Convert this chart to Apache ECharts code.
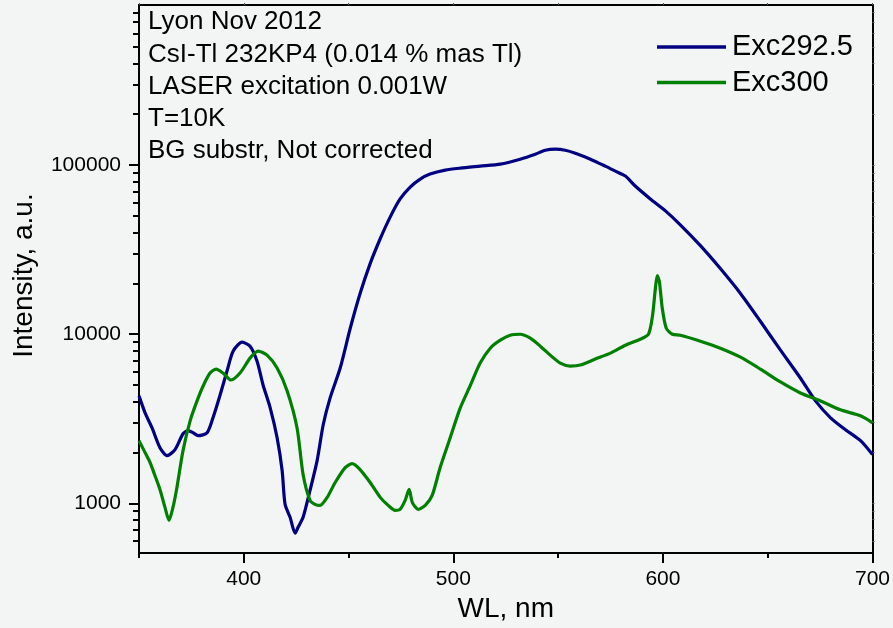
<!DOCTYPE html>
<html>
<head>
<meta charset="utf-8">
<script src="https://cdn.jsdelivr.net/npm/echarts@6/dist/echarts.min.js"></script>
<style>
  html, body { margin: 0; padding: 0; background: #f3f5f4; }
  #chart { width: 893px; height: 628px; }
</style>
</head>
<body>
<div id="chart"></div>
<script>
// Emission spectra, CsI-Tl 232KP4, log intensity vs wavelength
const wlExc2925 = [350.0,352.9,356.2,360.0,363.4,367.2,371.0,373.4,375.8,378.2,382.5,385.3,388.7,392.0,394.9,399.2,403.0,406.3,409.2,412.6,415.9,418.3,419.7,422.1,424.5,425.9,428.3,431.6,435.0,437.9,441.2,446.0,450.8,455.5,460.3,465.1,469.9,474.6,479.4,484.2,488.9,496.1,503.3,512.8,522.4,531.9,539.1,543.9,548.6,553.4,558.2,565.4,572.5,577.3,582.1,586.8,594.0,601.2,608.3,617.9,627.4,637.0,646.5,656.1,665.6,672.8,680.0,687.1,694.3,700.0];
const intExc2925 = [4320,3430,2800,2135,1915,2078,2580,2690,2616,2512,2616,3206,4377,6059,7943,8973,8500,6937,5012,3670,2445,1564,987,827,666,722,827,1192,1790,2915,4204,6310,10850,17420,26160,36700,49430,63100,74240,82730,88530,93460,96030,98650,101370,108470,116050,122500,124200,122500,117630,108470,98650,92200,86150,75240,63100,53620,44370,33390,24450,17420,11930,8053,5510,4035,3206,2725,2348,1942];

const wlExc300 = [350.0,352.9,355.3,357.6,360.0,362.4,364.3,366.2,368.1,371.0,374.4,377.7,380.6,383.9,386.8,390.1,393.9,398.2,403.0,406.8,411.1,415.9,420.7,425.4,428.3,431.6,434.0,436.4,439.8,443.6,448.4,451.7,455.5,460.3,465.1,468.9,472.2,474.6,477.0,478.9,480.4,483.2,486.6,489.9,493.7,498.5,503.3,508.0,512.8,517.6,522.4,527.1,531.9,536.7,541.5,546.2,551.0,555.8,560.6,567.7,574.9,582.1,589.2,593.1,595.0,596.4,597.3,598.3,599.7,601.6,604.5,608.3,617.9,627.4,637.0,646.5,656.1,665.6,675.2,684.7,694.3,700.0];
const intExc300 = [2348,1995,1742,1461,1209,947,794,947,1242,2050,3077,4035,4945,5895,6225,5895,5362,5895,7224,7943,7524,6310,4620,2800,1481,1041,987,973,1085,1329,1628,1719,1585,1329,1085,973,910,922,1041,1209,1014,922,973,1114,1628,2445,3670,4945,6750,8272,9220,9865,10000,9474,8500,7524,6750,6484,6572,7129,7730,8614,9346,10000,12760,18650,22240,20500,14220,10850,10000,9865,9096,8272,7323,6225,5220,4497,4035,3573,3294,2995];

const seriesNames = ['Exc292.5', 'Exc300'];
const xMajorTicks = [400, 500, 600, 700];
const yMajorTicks = [1000, 10000, 100000];
const yMinorTicks = [600, 700, 800, 900, 2000, 3000, 4000, 5000, 6000, 7000, 8000, 9000,
  20000, 30000, 40000, 50000, 60000, 70000, 80000, 90000, 200000, 300000, 400000, 500000,
  600000, 700000, 800000];
const notes = ['Lyon Nov 2012', 'CsI-Tl 232KP4 (0.014 % mas Tl)', 'LASER excitation 0.001W',
  'T=10K', 'BG substr, Not corrected'];

const X_MIN = 350, X_MAX = 700;
const Y_MIN = 508, Y_MAX = 885000;
const FONT = '"Liberation Sans", Arial, sans-serif';
const INK = '#000000';
const COLORS = ['#000080', '#008000'];

const pairs = (xs, ys) => xs.map((x, i) => [x, ys[i]]);

const chart = echarts.init(document.getElementById('chart'), null, { renderer: 'canvas' });

const noteTops = [22, 54.5, 86.5, 118.5, 150.5];

const option = {
  backgroundColor: '#f3f5f4',
  animation: false,
  textStyle: { fontFamily: FONT },
  grid: { left: 139, right: 20, top: 5, bottom: 71, containLabel: false },
  legend: {
    show: true,
    orient: 'vertical',
    left: 657,
    top: 32,
    padding: 0,
    itemWidth: 69,
    itemHeight: 3.5,
    itemGap: 5.5,
    icon: 'rect',
    data: seriesNames.map((n, i) => ({ name: n, icon: 'rect', itemStyle: { color: COLORS[i] } })),
    textStyle: { fontSize: 29, lineHeight: 30, color: INK, fontFamily: FONT, padding: [0, 0, 0, 1] }
  },
  xAxis: [
    {
      type: 'value', position: 'bottom', min: X_MIN, max: X_MAX, interval: 50,
      axisLine: { show: true, lineStyle: { color: INK, width: 2 } },
      axisTick: { show: true, length: 5, lineStyle: { color: INK, width: 2 } },
      axisLabel: { customValues: xMajorTicks, fontSize: 21, color: INK, margin: 16, fontFamily: FONT },
      splitLine: { show: false },
      name: 'WL, nm', nameLocation: 'middle', nameGap: 41,
      nameTextStyle: { fontSize: 28, color: INK, fontFamily: FONT }
    },
    {
      type: 'value', position: 'bottom', min: X_MIN, max: X_MAX,
      axisLine: { show: false },
      axisTick: { show: true, customValues: xMajorTicks, length: 10, lineStyle: { color: INK, width: 2 } },
      axisLabel: { show: false },
      splitLine: { show: false }
    },
    {
      type: 'value', position: 'top', min: X_MIN, max: X_MAX, interval: 50,
      axisLine: { show: true, lineStyle: { color: INK, width: 2 } },
      axisTick: { show: true, length: 2, lineStyle: { color: '#555', width: 1 } },
      axisLabel: { show: false },
      splitLine: { show: false }
    }
  ],
  yAxis: [
    {
      type: 'log', logBase: 10, position: 'left', min: Y_MIN, max: Y_MAX,
      axisLine: { show: true, lineStyle: { color: INK, width: 2 } },
      axisTick: { show: true, customValues: yMajorTicks, length: 10, lineStyle: { color: INK, width: 2 } },
      axisLabel: {
        customValues: yMajorTicks, fontSize: 21, color: INK, margin: 18, fontFamily: FONT,
        formatter: (v) => String(Math.round(v))
      },
      splitLine: { show: false },
      name: 'Intensity, a.u.', nameLocation: 'middle', nameGap: 101,
      nameTextStyle: { fontSize: 28, color: INK, fontFamily: FONT, padding: [0, 0, 0, 7] }
    },
    {
      type: 'log', logBase: 10, position: 'left', min: Y_MIN, max: Y_MAX,
      axisLine: { show: false },
      axisTick: { show: true, customValues: yMinorTicks, length: 6, lineStyle: { color: INK, width: 2 } },
      axisLabel: { show: false },
      splitLine: { show: false }
    },
    {
      type: 'log', logBase: 10, position: 'right', min: Y_MIN, max: Y_MAX,
      axisLine: { show: true, lineStyle: { color: INK, width: 2 } },
      axisTick: { show: true, customValues: yMajorTicks.concat(yMinorTicks), length: 2, lineStyle: { color: '#555', width: 1 } },
      axisLabel: { show: false },
      splitLine: { show: false }
    }
  ],
  graphic: notes.map((t, i) => ({
    type: 'text',
    left: 148,
    top: noteTops[i] - 13,
    silent: true,
    style: { text: t, font: '26px ' + FONT, fill: INK, textVerticalAlign: 'top' }
  })),
  series: [
    {
      name: seriesNames[0], type: 'line', xAxisIndex: 0, yAxisIndex: 0,
      data: pairs(wlExc2925, intExc2925),
      showSymbol: false, symbol: 'none', smooth: 0.25,
      lineStyle: { color: COLORS[0], width: 3.2, join: 'round' },
      itemStyle: { color: COLORS[0] }
    },
    {
      name: seriesNames[1], type: 'line', xAxisIndex: 0, yAxisIndex: 0,
      data: pairs(wlExc300, intExc300),
      showSymbol: false, symbol: 'none', smooth: 0.25,
      lineStyle: { color: COLORS[1], width: 3.2, join: 'round' },
      itemStyle: { color: COLORS[1] }
    }
  ]
};

chart.setOption(option);
</script>
</body>
</html>
